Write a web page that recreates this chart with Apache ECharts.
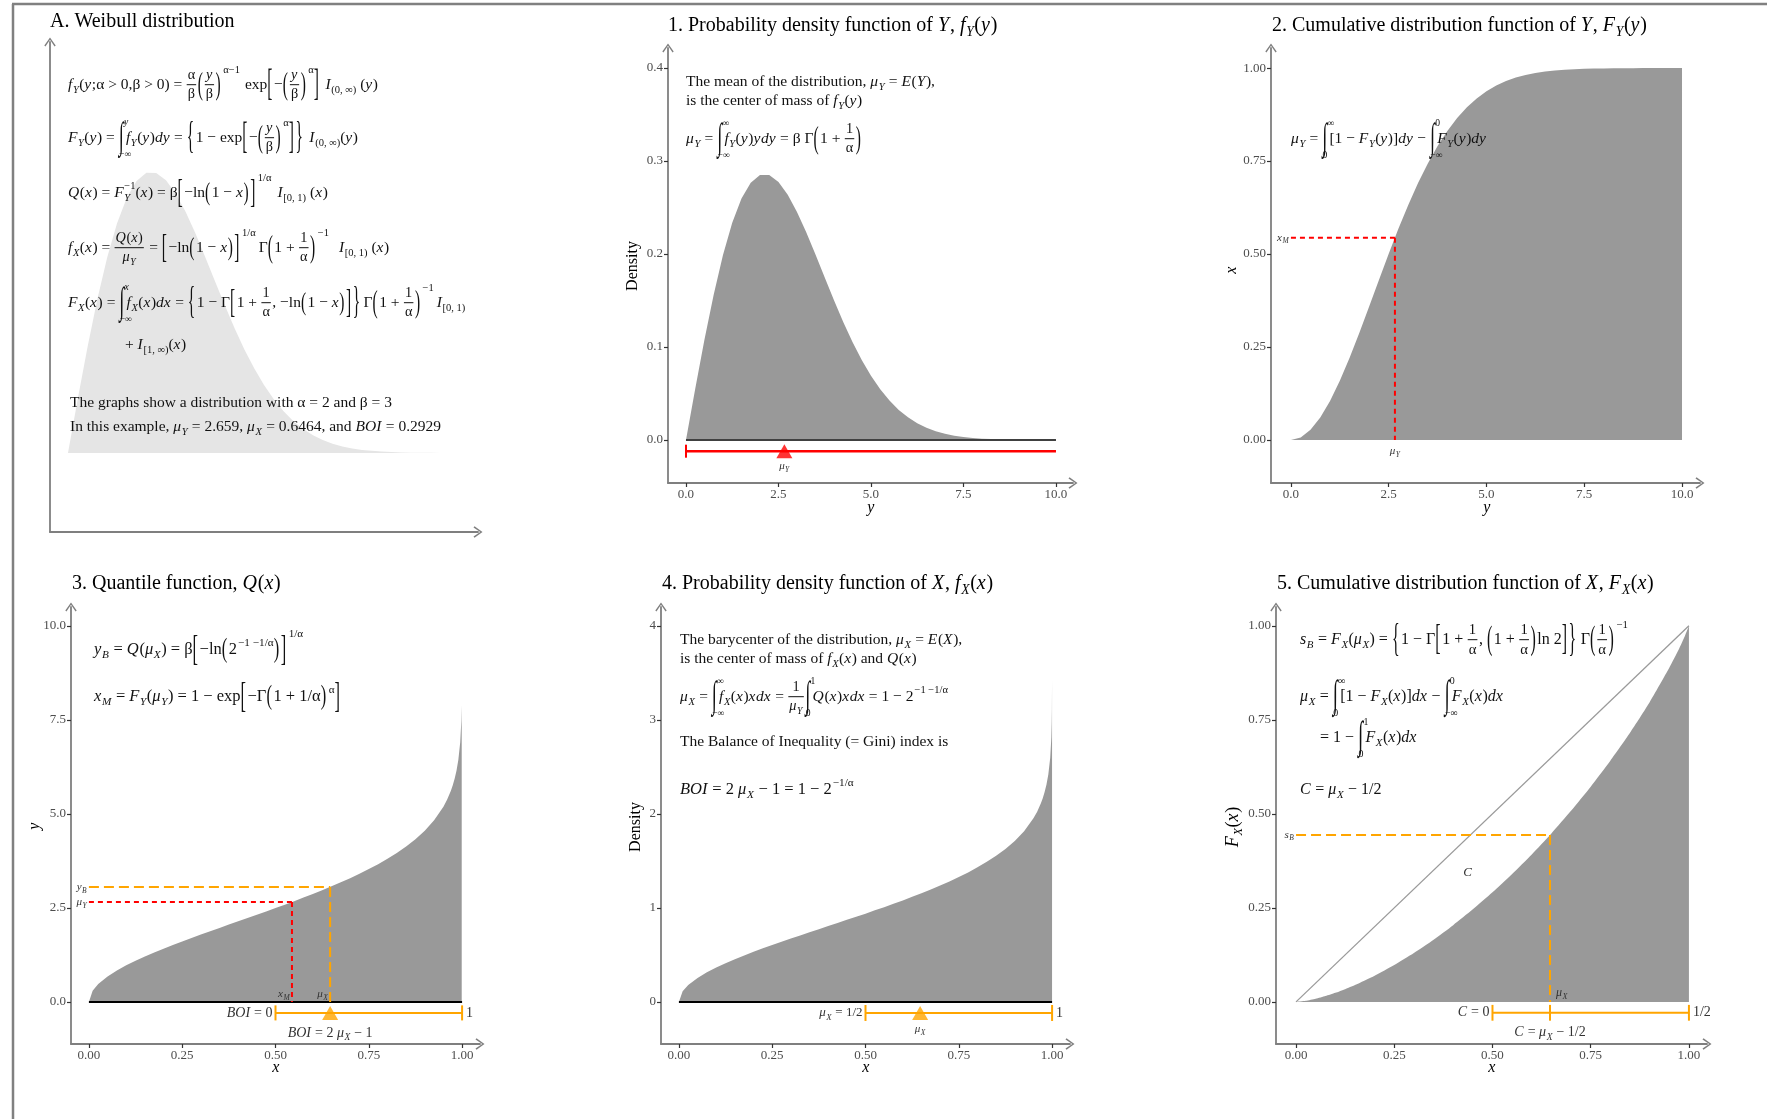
<!doctype html>
<html>
<head>
<meta charset="utf-8">
<title>Weibull distribution: Y, Q(x) and X</title>
<script src="https://cdn.jsdelivr.net/npm/echarts@6/dist/echarts.min.js"></script>
<style>
html, body { margin: 0; padding: 0; background: #fff; }
#main { width: 1767px; height: 1119px; }
</style>
</head>
<body>
<div id="main"></div>
<script>
// values (Weibull, alpha = 2, beta = 3)
var yGrid = [0, 0.25, 0.5, 0.75, 1, 1.25, 1.5, 1.75, 2, 2.25, 2.5, 2.75, 3, 3.25, 3.5, 3.75, 4, 4.25, 4.5, 4.75,
  5, 5.25, 5.5, 5.75, 6, 6.25, 6.5, 6.75, 7, 7.25, 7.5, 7.75, 8, 8.25, 8.5, 8.75, 9, 9.25, 9.5, 9.75, 10];
var densY = [0, 0.0552, 0.1081, 0.1566, 0.1989, 0.2335, 0.2596, 0.2767, 0.2850, 0.2849, 0.2774, 0.2638, 0.2453,
  0.2234, 0.1994, 0.1747, 0.1502, 0.1269, 0.1054, 0.0861, 0.0691, 0.0546, 0.0424, 0.0324, 0.0244, 0.0181, 0.0132,
  0.0095, 0.0067, 0.0047, 0.0032, 0.0022, 0.0015, 0.0010, 0.0006, 0.0004, 0.0003, 0.0002, 0.0001, 0.0001, 0];
var cdfY = [0, 0.0069, 0.0274, 0.0606, 0.1052, 0.1594, 0.2212, 0.2884, 0.3588, 0.4302, 0.5007, 0.5684, 0.6321,
  0.6908, 0.7436, 0.7904, 0.8310, 0.8656, 0.8946, 0.9185, 0.9378, 0.9532, 0.9653, 0.9746, 0.9817, 0.9870, 0.9909,
  0.9937, 0.9957, 0.9971, 0.9981, 0.9987, 0.9992, 0.9995, 0.9997, 0.9998, 0.9999, 0.9999, 1, 1, 1];

var xGrid = [0, 0.01, 0.025, 0.05, 0.075, 0.1, 0.125, 0.15, 0.175, 0.2, 0.225, 0.25, 0.275, 0.3, 0.325, 0.35,
  0.375, 0.4, 0.425, 0.45, 0.475, 0.5, 0.525, 0.55, 0.575, 0.6, 0.625, 0.65, 0.675, 0.7, 0.725, 0.75, 0.775, 0.8,
  0.825, 0.85, 0.875, 0.9, 0.925, 0.95, 0.96, 0.97, 0.975, 0.98, 0.985, 0.99, 0.995, 0.998, 0.999];
var quantY = [0, 0.301, 0.477, 0.679, 0.838, 0.974, 1.096, 1.209, 1.316, 1.417, 1.515, 1.609, 1.701, 1.792, 1.881,
  1.969, 2.057, 2.144, 2.232, 2.320, 2.408, 2.498, 2.588, 2.681, 2.775, 2.872, 2.971, 3.074, 3.181, 3.292, 3.409,
  3.532, 3.664, 3.806, 3.961, 4.132, 4.326, 4.552, 4.828, 5.193, 5.382, 5.618, 5.762, 5.934, 6.148, 6.438, 6.905,
  7.479, 7.885];
var xGridTail = [0.9995, 0.9999];
var densX = [0, 0.113, 0.180, 0.256, 0.315, 0.366, 0.412, 0.455, 0.495, 0.533, 0.570, 0.605, 0.640, 0.674, 0.707,
  0.741, 0.774, 0.807, 0.839, 0.873, 0.906, 0.939, 0.974, 1.008, 1.044, 1.080, 1.118, 1.156, 1.196, 1.238, 1.282,
  1.329, 1.378, 1.432, 1.490, 1.554, 1.627, 1.712, 1.816, 1.953, 2.024, 2.113, 2.167, 2.232, 2.312, 2.421, 2.597,
  2.813, 2.966, 3.111, 3.424];

var lorenzGrid = [0, 0.025, 0.05, 0.075, 0.1, 0.125, 0.15, 0.2, 0.25, 0.3, 0.35, 0.4, 0.45, 0.5, 0.55, 0.6, 0.65,
  0.7, 0.75, 0.8, 0.85, 0.9, 0.95, 0.975, 0.99, 1];
var cdfX = [0, 0.0030, 0.0085, 0.0156, 0.0242, 0.0339, 0.0447, 0.0695, 0.0980, 0.1299, 0.1653, 0.2040, 0.2460,
  0.2912, 0.3399, 0.3921, 0.4480, 0.5079, 0.5720, 0.6409, 0.7154, 0.7969, 0.8885, 0.9389, 0.9734, 1];
var diagonal = [[0, 0], [1, 1]];

// summary numbers
var muY = 2.659, muX = 0.6464, xM = 0.5441, yB = 3.059, sB = 0.444;
var cLabelAt = [0.437, 0.343];
var barLevel1 = -0.012, barLevel3 = -0.29, barLevel4 = -0.117, barLevel5 = -0.029;

// tick values
var ticksY = [0, 2.5, 5, 7.5, 10];
var ticksUnit = [0, 0.25, 0.5, 0.75, 1];
var ticksDensY = [0, 0.1, 0.2, 0.3, 0.4];
var ticksDensX = [0, 1, 2, 3, 4];

var FONT = '"Liberation Serif", "Times New Roman", serif';
var GREY = '#999999', RED = '#ff0000', ORANGE = '#ffa500';
var ARROW = 'path://M5,0 L10,7 L9,7.9 L5,2 L1,7.9 L0,7 Z';

function zipPts(xs, ys) { return xs.map(function (x, i) { return [x, ys[i]]; }); }

// ---- grids (pixel boxes) and axis ranges ----
var grids = [
  { left: 50, top: 42, width: 428, height: 490 },
  { left: 668, top: 48, width: 405, height: 435 },
  { left: 1271, top: 48, width: 429, height: 435 },
  { left: 71, top: 607, width: 409, height: 437 },
  { left: 661, top: 607, width: 409, height: 437 },
  { left: 1276, top: 607, width: 431, height: 437 }
];
var xRanges = [[-0.459, 10.46], [-0.486, 10.46], [-0.51, 10.46], [-0.048, 1.048], [-0.048, 1.048], [-0.051, 1.046]];
var yRanges = [[-0.0803, 0.418], [-0.0462, 0.4215], [-0.1156, 1.054], [-1.117, 10.5], [-0.447, 4.2], [-0.112, 1.05]];
var xTicks = [null, ticksY, ticksY, ticksUnit, ticksUnit, ticksUnit];
var yTicks = [null, ticksDensY, ticksUnit, ticksY, ticksDensX, ticksUnit];
var xDec = [0, 1, 1, 2, 2, 2];
var yDec = [0, 1, 2, 1, 0, 2];

function axis(g, dim) {
  var ticks = dim === 'x' ? xTicks[g] : yTicks[g];
  var dec = dim === 'x' ? xDec[g] : yDec[g];
  var r = dim === 'x' ? xRanges[g] : yRanges[g];
  return {
    type: 'value', gridIndex: g, min: r[0], max: r[1],
    position: dim === 'x' ? 'bottom' : 'left',
    axisLine: { show: true, onZero: false, symbol: ['none', ARROW], symbolSize: [12, 9],
      lineStyle: { color: '#7f7f7f', width: 1.8 } },
    axisTick: { show: !!ticks, length: 4, customValues: ticks || undefined,
      lineStyle: { color: '#333', width: 1.2 } },
    axisLabel: { show: !!ticks, customValues: ticks || undefined, margin: 5,
      formatter: function (v) { return Number(v).toFixed(dec); },
      color: '#4d4d4d', fontFamily: 'Liberation Serif', fontSize: 13 },
    splitLine: { show: false }
  };
}

function area(g, pts, color, smooth) {
  return { type: 'line', xAxisIndex: g, yAxisIndex: g, data: pts, symbol: 'none', smooth: smooth || false,
    lineStyle: { width: 0 }, areaStyle: { color: color, opacity: 1 }, silent: true };
}
function seg(g, pts, color, width, dash) {
  return { type: 'line', xAxisIndex: g, yAxisIndex: g, data: pts, symbol: 'none',
    lineStyle: { color: color, width: width, type: dash || 'solid', cap: 'butt' }, silent: true };
}
function tri(g, pt, color) {
  return { type: 'scatter', xAxisIndex: g, yAxisIndex: g, data: [pt], symbol: 'triangle',
    symbolSize: [16, 14], itemStyle: { color: color }, silent: true, z: 5 };
}
function cap(g, x, y, h, color) { return seg(g, [[x, y - h], [x, y + h]], color, 2); }

var series = [
  // A. background density
  area(0, zipPts(yGrid, densY), '#e5e5e5'),
  // 1. pdf of Y
  area(1, zipPts(yGrid, densY), GREY),
  seg(1, [[0, 0], [10, 0]], '#404040', 2),
  seg(1, [[0, barLevel1], [10, barLevel1]], RED, 2.5),
  cap(1, 0, barLevel1, 0.007, RED),
  tri(1, [muY, barLevel1], RED),
  // 2. cdf of Y
  area(2, zipPts(yGrid, cdfY), GREY),
  seg(2, [[0, xM], [muY, xM]], RED, 2, [5, 4]),
  seg(2, [[muY, xM], [muY, 0]], RED, 2, [5, 4]),
  // 3. quantile function
  area(3, zipPts(xGrid, quantY), GREY),
  seg(3, [[0, 0], [1, 0]], '#000', 2),
  seg(3, [[0, muY], [xM, muY]], RED, 2, [5, 4]),
  seg(3, [[xM, muY], [xM, 0]], RED, 2, [5, 4]),
  seg(3, [[0, yB], [muX, yB]], ORANGE, 2, [10, 5]),
  seg(3, [[muX, yB], [muX, 0]], ORANGE, 2, [10, 5]),
  seg(3, [[0.5, barLevel3], [1, barLevel3]], ORANGE, 2),
  cap(3, 0.5, barLevel3, 0.2, ORANGE),
  cap(3, 1, barLevel3, 0.2, ORANGE),
  tri(3, [muX, barLevel3], ORANGE),
  // 4. pdf of X
  area(4, zipPts(xGrid.concat(xGridTail), densX), GREY),
  seg(4, [[0, 0], [1, 0]], '#000', 2),
  seg(4, [[0.5, barLevel4], [1, barLevel4]], ORANGE, 2),
  cap(4, 0.5, barLevel4, 0.085, ORANGE),
  cap(4, 1, barLevel4, 0.085, ORANGE),
  tri(4, [muX, barLevel4], ORANGE),
  // 5. cdf of X
  area(5, zipPts(lorenzGrid, cdfX), GREY, 0.2),
  seg(5, diagonal, '#9a9a9a', 1.3),
  seg(5, [[0, sB], [muX, sB]], ORANGE, 2, [10, 5]),
  seg(5, [[muX, sB], [muX, 0]], ORANGE, 2, [10, 5]),
  seg(5, [[0.5, barLevel5], [1, barLevel5]], ORANGE, 2),
  cap(5, 0.5, barLevel5, 0.021, ORANGE),
  cap(5, muX, barLevel5, 0.021, ORANGE),
  cap(5, 1, barLevel5, 0.021, ORANGE)
];

var chart = echarts.init(document.getElementById('main'));
chart.setOption({
  animation: false,
  backgroundColor: '#fff',
  grid: grids,
  xAxis: grids.map(function (_, g) { return axis(g, 'x'); }),
  yAxis: grids.map(function (_, g) { return axis(g, 'y'); }),
  series: series
});

// ---- small typesetter for the math annotations ----
var mctx = document.createElement('canvas').getContext('2d');
function tw(t, sz, it) { mctx.font = (it ? 'italic ' : '') + sz + 'px ' + FONT; return mctx.measureText(t).width; }
function txt(t, x, y, sz, it, col, sy) {
  return { type: 'text', x: x, y: y, scaleY: sy || 1, silent: true, z: 100,
    style: { text: t, font: (it ? 'italic ' : '') + sz + 'px ' + FONT, fill: col, align: 'left', verticalAlign: 'middle' } };
}
function I(s) { return { i: s }; }
function sub() { return { sub: [].slice.call(arguments) }; }
function sup() { return { sup: [].slice.call(arguments) }; }
function supH() { return { sup: [].slice.call(arguments), h: 1 }; }
function fr(n, d) { return { f: [n, d] }; }
function B(c, h) { return { b: c, h: h }; }
function INT(lo, hi) { return { int: [lo, hi] }; }
function SP(n) { return { sp: n }; }

function ts(tokens, x, y, sz, col, out) {
  var cx = x;
  tokens.forEach(function (tk) {
    if (typeof tk === 'string') { out.push(txt(tk, cx, y, sz, false, col)); cx += tw(tk, sz, false); }
    else if (tk.i) { out.push(txt(tk.i, cx, y, sz, true, col)); cx += tw(tk.i, sz, true) + sz * 0.04; }
    else if (tk.sub) { cx += ts(tk.sub, cx, y + 0.33 * sz, sz * 0.68, col, out); }
    else if (tk.sup) { cx += ts(tk.sup, cx + 1, y - (tk.h ? 0.95 : 0.45) * sz, sz * 0.68, col, out) + 1; }
    else if (tk.ss) {
      var a = ts(tk.ss[0], cx, y + 0.33 * sz, sz * 0.68, col, out);
      var b = ts(tk.ss[1], cx, y - 0.45 * sz, sz * 0.68, col, out);
      cx += Math.max(a, b);
    } else if (tk.f) {
      var fs = sz * 0.92;
      var nw = ts(tk.f[0], 0, 0, fs, col, []), dw = ts(tk.f[1], 0, 0, fs, col, []);
      var fw = Math.max(nw, dw) + 3;
      ts(tk.f[0], cx + (fw - nw) / 2, y - 0.6 * sz, fs, col, out);
      ts(tk.f[1], cx + (fw - dw) / 2, y + 0.62 * sz, fs, col, out);
      out.push({ type: 'line', silent: true, z: 100,
        shape: { x1: cx + 0.5, y1: y - 0.02 * sz, x2: cx + fw - 0.5, y2: y - 0.02 * sz },
        style: { stroke: col, lineWidth: 1 } });
      cx += fw + 1;
    } else if (tk.b) { out.push(txt(tk.b, cx, y, sz, false, col, tk.h)); cx += tw(tk.b, sz, false) + 1.5; }
    else if (tk.int) {
      var iw = tw('∫', sz, false);
      out.push(txt('∫', cx, y, sz * 1.15, false, col, 2.1));
      ts(tk.int[1], cx + iw + 1, y - 1.0 * sz, sz * 0.62, col, out);
      ts(tk.int[0], cx + iw * 0.1, y + 1.05 * sz, sz * 0.62, col, out);
      cx += iw + 3;
    } else if (tk.sp) { cx += tk.sp; }
  });
  return cx - x;
}

var G = [];
function put(tokens, x, y, sz, col, align) {
  var w = ts(tokens, 0, 0, sz, col, []);
  var x0 = align === 'right' ? x - w : align === 'center' ? x - w / 2 : x;
  ts(tokens, x0, y, sz, col || '#111', G);
}
function putRot(tokens, x, y, sz, col) {
  var kids = [];
  var w = ts(tokens, 0, 0, sz, col, []);
  ts(tokens, -w / 2, 0, sz, col, kids);
  G.push({ type: 'group', x: x, y: y, rotation: Math.PI / 2, children: kids });
}
function at(g, pt, tokens, sz, align, dx, dy, col) {
  var p = chart.convertToPixel({ gridIndex: g }, pt);
  put(tokens, p[0] + (dx || 0), p[1] + (dy || 0), sz, col || '#333', align);
}

var muYt = [I('μ'), sub(I('Y'))];
var muXt = [I('μ'), sub(I('X'))];
var K = '#111', TS = 20, FS = 15.5;

// frame
G.push({ type: 'line', silent: true, shape: { x1: 12, y1: 4, x2: 1767, y2: 4 }, style: { stroke: '#808080', lineWidth: 2.5 } });
G.push({ type: 'line', silent: true, shape: { x1: 13, y1: 4, x2: 13, y2: 1119 }, style: { stroke: '#808080', lineWidth: 2.5 } });

// titles
put(['A. Weibull distribution'], 50, 22, TS, '#000');
put(['1. Probability density function of ', I('Y'), ', ', I('f'), sub(I('Y')), '(', I('y'), ')'], 668, 26, TS, '#000');
put(['2. Cumulative distribution function of ', I('Y'), ', ', I('F'), sub(I('Y')), '(', I('y'), ')'], 1272, 26, TS, '#000');
put(['3. Quantile function, ', I('Q'), '(', I('x'), ')'], 72, 584, TS, '#000');
put(['4. Probability density function of ', I('X'), ', ', I('f'), sub(I('X')), '(', I('x'), ')'], 662, 584, TS, '#000');
put(['5. Cumulative distribution function of ', I('X'), ', ', I('F'), sub(I('X')), '(', I('x'), ')'], 1277, 584, TS, '#000');

// axis titles
putRot(['Density'], 633, 266, 16, '#000');
put([I('y')], 871, 508, 16, '#000', 'center');
putRot([I('x')], 1232, 270, 16, '#000');
put([I('y')], 1487, 508, 16, '#000', 'center');
putRot([I('y')], 35, 826, 16, '#000');
put([I('x')], 276, 1068, 16, '#000', 'center');
putRot(['Density'], 636, 827, 16, '#000');
put([I('x')], 866, 1068, 16, '#000', 'center');
putRot([I('F'), sub(I('X')), '(', I('x'), ')'], 1233, 827, 18, '#000');
put([I('x')], 1492, 1068, 16, '#000', 'center');

// panel A formulas
put([I('f'), sub(I('Y')), '(', I('y'), ';α > 0,β > 0) = ', fr(['α'], ['β']), B('(', 2.1), fr([I('y')], ['β']), B(')', 2.1),
  supH('α−1'), SP(5), 'exp', B('[', 2.5), '−', B('(', 2.1), fr([I('y')], ['β']), B(')', 2.1), supH('α'), B(']', 2.5),
  SP(5), I('I'), sub('(0, ∞)'), ' (', I('y'), ')'], 68, 85, FS, K);
put([I('F'), sub(I('Y')), '(', I('y'), ') = ', INT(['−∞'], [I('y')]), I('f'), sub(I('Y')), '(', I('y'), ')', I('dy'), ' = ',
  B('{', 2.5), '1 − exp', B('[', 2.5), '−', B('(', 2.1), fr([I('y')], ['β']), B(')', 2.1), supH('α'), B(']', 2.5), B('}', 2.5),
  SP(5), I('I'), sub('(0, ∞)'), '(', I('y'), ')'], 68, 138, FS, K);
put([I('Q'), '(', I('x'), ') = ', I('F'), { ss: [[I('Y')], ['−1']] }, '(', I('x'), ') = β', B('[', 2.2), '−ln', B('(', 1.6),
  '1 − ', I('x'), B(')', 1.6), B(']', 2.2), supH('1/α'), SP(6), I('I'), sub('[0, 1)'), ' (', I('x'), ')'], 68, 193, FS, K);
put([I('f'), sub(I('X')), '(', I('x'), ') = ', fr([I('Q'), '(', I('x'), ')'], muYt), ' = ', B('[', 2.2), '−ln', B('(', 1.6),
  '1 − ', I('x'), B(')', 1.6), B(']', 2.2), supH('1/α'), SP(3), 'Γ', B('(', 2.1), '1 + ', fr(['1'], ['α']), B(')', 2.1),
  supH('−1'), SP(10), I('I'), sub('[0, 1)'), ' (', I('x'), ')'], 68, 248, FS, K);
put([I('F'), sub(I('X')), '(', I('x'), ') = ', INT(['−∞'], [I('x')]), I('f'), sub(I('X')), '(', I('x'), ')', I('dx'), ' = ',
  B('{', 2.5), '1 − Γ', B('[', 2.2), '1 + ', fr(['1'], ['α']), ', −ln', B('(', 1.6), '1 − ', I('x'), B(')', 1.6), B(']', 2.2),
  B('}', 2.5), SP(2), 'Γ', B('(', 2.1), '1 + ', fr(['1'], ['α']), B(')', 2.1), supH('−1'), SP(3), I('I'), sub('[0, 1)')],
  68, 303, FS, K);
put(['+ ', I('I'), sub('[1, ∞)'), '(', I('x'), ')'], 125, 345, FS, K);
put(['The graphs show a distribution with α = 2 and β = 3'], 70, 403, FS, K);
put(['In this example, '].concat(muYt, [' = 2.659, '], muXt, [' = 0.6464, and ', I('BOI'), ' = 0.2929']), 70, 427, FS, K);

// panel 1
put(['The mean of the distribution, '].concat(muYt, [' = ', I('E'), '(', I('Y'), '),']), 686, 82, FS, K);
put(['is the center of mass of ', I('f'), sub(I('Y')), '(', I('y'), ')'], 686, 101, FS, K);
put(muYt.concat([' = ', INT(['−∞'], ['∞']), I('f'), sub(I('Y')), '(', I('y'), ')', I('y'), I('dy'), ' = β Γ', B('(', 2.1),
  '1 + ', fr(['1'], ['α']), B(')', 2.1)]), 686, 139, FS, K);

// panel 2
put(muYt.concat([' = ', INT(['0'], ['∞']), '[1 − ', I('F'), sub(I('Y')), '(', I('y'), ')]', I('dy'), ' − ', INT(['−∞'], ['0']),
  I('F'), sub(I('Y')), '(', I('y'), ')', I('dy')]), 1291, 139, FS, K);

// panel 3
put([I('y'), sub(I('B')), ' = ', I('Q'), '('].concat(muXt, [') = β', B('[', 2.2), '−ln', B('(', 1.6), '2', sup('−1 −1/α'),
  B(')', 1.6), B(']', 2.2), supH('1/α')]), 94, 650, 16.5, K);
put([I('x'), sub(I('M')), ' = ', I('F'), sub(I('Y')), '('].concat(muYt, [') = 1 − exp', B('[', 2.2), '−Γ', B('(', 1.6),
  '1 + 1/α', B(')', 1.6), sup('α'), B(']', 2.2)]), 94, 697, 16.5, K);

// panel 4
put(['The barycenter of the distribution, '].concat(muXt, [' = ', I('E'), '(', I('X'), '),']), 680, 640, FS, K);
put(['is the center of mass of ', I('f'), sub(I('X')), '(', I('x'), ') and ', I('Q'), '(', I('x'), ')'], 680, 659, FS, K);
put(muXt.concat([' = ', INT(['−∞'], ['∞']), I('f'), sub(I('X')), '(', I('x'), ')', I('x'), I('dx'), ' = ', fr(['1'], muYt),
  INT(['0'], ['1']), I('Q'), '(', I('x'), ')', I('x'), I('dx'), ' = 1 − 2', sup('−1 −1/α')]), 680, 697, FS, K);
put(['The Balance of Inequality (= Gini) index is'], 680, 742, FS, K);
put([I('BOI'), ' = 2 '].concat(muXt, [' − 1 = 1 − 2', sup('−1/α')]), 680, 790, 16.5, K);

// panel 5
put([I('s'), sub(I('B')), ' = ', I('F'), sub(I('X')), '('].concat(muXt, [') = ', B('{', 2.5), '1 − Γ', B('[', 2.2), '1 + ',
  fr(['1'], ['α']), ', ', B('(', 2.1), '1 + ', fr(['1'], ['α']), B(')', 2.1), 'ln 2', B(']', 2.2), B('}', 2.5), SP(3), 'Γ',
  B('(', 2.1), fr(['1'], ['α']), B(')', 2.1), supH('−1')]), 1300, 640, 16, K);
put(muXt.concat([' = ', INT(['0'], ['∞']), '[1 − ', I('F'), sub(I('X')), '(', I('x'), ')]', I('dx'), ' − ', INT(['−∞'], ['0']),
  I('F'), sub(I('X')), '(', I('x'), ')', I('dx')]), 1300, 697, 16, K);
put(['= 1 − ', INT(['0'], ['1']), I('F'), sub(I('X')), '(', I('x'), ')', I('dx')], 1320, 738, 16, K);
put([I('C'), ' = '].concat(muXt, [' − 1/2']), 1300, 790, 16, K);

// labels tied to data positions
at(1, [muY, barLevel1], muYt, 11, 'center', 0, 15);
at(2, [0, xM], [I('x'), sub(I('M'))], 11, 'right', -2, 0);
at(2, [muY, 0], muYt, 11, 'center', 0, 11);
at(3, [0, yB], [I('y'), sub(I('B'))], 11, 'right', -2, 0);
at(3, [0, muY], muYt, 11, 'right', -2, 0);
at(3, [xM, 0], [I('x'), sub(I('M'))], 11, 'right', -2, -8);
at(3, [muX, 0], muXt, 11, 'right', -2, -8);
at(3, [0.5, barLevel3], [I('BOI'), ' = 0'], 14, 'right', -3, 0);
at(3, [1, barLevel3], ['1'], 14, 'left', 4, 0);
at(3, [muX, barLevel3], [I('BOI'), ' = 2 '].concat(muXt, [' − 1']), 14, 'center', 0, 20);
at(4, [0.5, barLevel4], muXt.concat([' = 1/2']), 13, 'right', -3, 0);
at(4, [1, barLevel4], ['1'], 14, 'left', 4, 0);
at(4, [muX, barLevel4], muXt, 11, 'center', 0, 16);
at(5, [0, sB], [I('s'), sub(I('B'))], 11, 'right', -2, 0);
at(5, [muX, 0], muXt, 12, 'left', 6, -9);
at(5, cLabelAt, [I('C')], 13, 'center', 0, 0);
at(5, [0.5, barLevel5], [I('C'), ' = 0'], 14, 'right', -3, 0);
at(5, [1, barLevel5], ['1/2'], 14, 'left', 4, 0);
at(5, [muX, barLevel5], [I('C'), ' = '].concat(muXt, [' − 1/2']), 14, 'center', 0, 20);

chart.setOption({ graphic: { elements: G } });

window.addEventListener('resize', function () { chart.resize(); });
</script>
</body>
</html>
